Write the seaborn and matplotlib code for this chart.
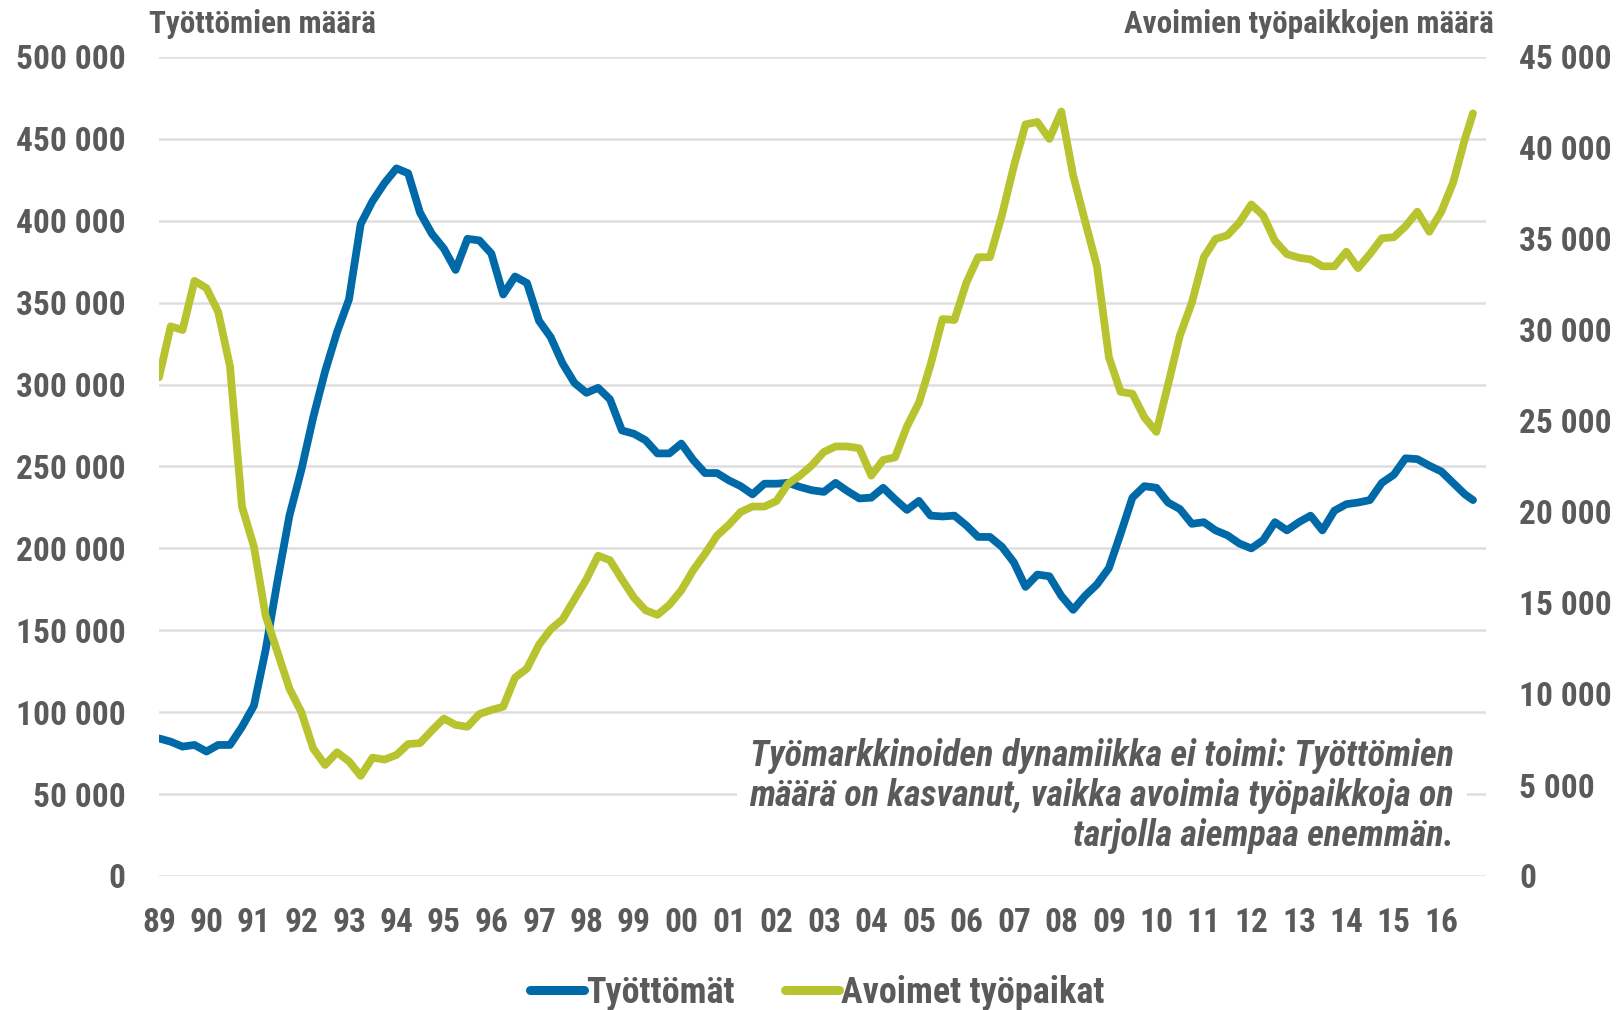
import matplotlib

matplotlib.use("Agg")
import matplotlib.pyplot as plt
import matplotlib.dates as mdates
from matplotlib import font_manager
from matplotlib.lines import Line2D
from matplotlib.ticker import MultipleLocator, FuncFormatter
import pandas as pd
import seaborn as sns

# quarterly readings Jan 1989 .. Jul 2016, plus the last month (Sep 2016)
KUUKAUDET = list(pd.date_range("1989-01-01", "2016-07-01", freq="QS")) + [pd.Timestamp("2016-09-01")]

# Työttömät, thousands (left axis)
TYOTTOMAT_K = [
    84, 82, 79, 80, 76, 80, 80, 91, 104, 138, 180, 220, 248, 280, 308, 332,
    352, 398, 412, 423, 432, 429, 405, 392, 383, 370, 389, 388, 380, 355, 366, 362,
    339, 329, 313, 301, 295, 298, 291, 272, 270, 266, 258, 258, 264, 254, 246, 246,
    241.5, 238, 233, 239.5, 239.5, 240, 237.5, 235.5, 234.5, 240, 235, 230.5, 231, 237, 230, 223.5,
    229, 220, 219.5, 220, 214, 207, 207, 201, 191.5, 176.5, 184, 183, 171, 162.5, 171, 178,
    188, 209, 231, 238, 237, 228, 224, 215, 216, 211, 208, 203, 200, 205, 216, 211,
    216, 220, 211, 223, 227, 228, 229.5, 240, 245, 255, 254.5, 250.5, 247, 240, 233,
    229.5,
]

# Avoimet työpaikat (right axis)
AVOIMET = [
    27400, 30200, 30000, 32700, 32300, 31000, 28000, 20300, 18100, 14300, 12300, 10300, 9000, 7000, 6100, 6800,
    6300, 5500, 6500, 6400, 6650, 7250, 7300, 8000, 8650, 8300, 8200, 8900, 9120, 9300, 10900, 11400,
    12700, 13550, 14100, 15200, 16300, 17600, 17350, 16300, 15300, 14600, 14350, 14900, 15700, 16800, 17700, 18700,
    19300, 20000, 20300, 20300, 20600, 21550, 22000, 22570, 23300, 23600, 23600, 23500, 22000, 22860, 23000, 24700,
    26000, 28100, 30600, 30550, 32600, 34000, 34000, 36300, 39000, 41300, 41430, 40500, 42000, 38500, 36000, 33500,
    28500, 26600, 26500, 25200, 24400, 27000, 29700, 31500, 34000, 35000, 35200, 35900, 36900, 36300, 34900, 34170,
    33970, 33880, 33500, 33500, 34300, 33400, 34170, 35040, 35100, 35700, 36500, 35400, 36500, 38090, 40500,
    41900,
]

SARJA_1 = "Työttömät"
SARJA_2 = "Avoimet työpaikat"
OTSIKKO_V = "Työttömien määrä"
OTSIKKO_O = "Avoimien työpaikkojen määrä"
HUOMIO = ("Työmarkkinoiden dynamiikka ei toimi: Työttömien\n"
          "määrä on kasvanut, vaikka avoimia työpaikkoja on\n"
          "tarjolla aiempaa enemmän.")

BLUE = "#006AA9"
GREEN = "#B8C42F"
GREY = "#5A5A5A"
GRID = "#DEDEDE"

sns.set_theme(style="white")

# the original uses a narrow bold face; take one if it is installed
installed = {f.name for f in font_manager.fontManager.ttflist}
narrow = [n for n in ("Liberation Sans Narrow", "Roboto Condensed", "Open Sans Condensed",
                      "DejaVu Sans Condensed") if n in installed]
if narrow:
    plt.rcParams["font.family"] = [narrow[0], "DejaVu Sans"]
    SZ_TICK, SZ_TITLE, SZ_LEG, SZ_NOTE = 24, 22.4, 26, 26
else:
    plt.rcParams["font.family"] = ["Liberation Sans", "DejaVu Sans"]
    SZ_TICK, SZ_TITLE, SZ_LEG, SZ_NOTE = 21.6, 19, 22.6, 22
plt.rcParams["font.weight"] = "bold"


def spaced(v, _pos=None):
    return f"{v:,.0f}".replace(",", " ")


df = pd.DataFrame({
    "kk": KUUKAUDET,
    "tyottomat": [v * 1000 for v in TYOTTOMAT_K],
    "avoimet": AVOIMET,
})

fig = plt.figure(figsize=(16.21, 10.10), dpi=100)
ax = fig.add_axes([159 / 1621, 1 - 876 / 1010, (1486 - 159) / 1621, (876 - 57) / 1010])
ax2 = ax.twinx()

sns.lineplot(data=df, x="kk", y="tyottomat", ax=ax, color=BLUE, lw=5.6,
             solid_joinstyle="round", solid_capstyle="round", legend=False)
sns.lineplot(data=df, x="kk", y="avoimet", ax=ax2, color=GREEN, lw=5.6,
             solid_joinstyle="round", solid_capstyle="round", legend=False)

ax.set_xlim(pd.Timestamp("1989-01-01"), pd.Timestamp("2016-12-10"))
ax.xaxis.set_major_locator(mdates.YearLocator())
ax.xaxis.set_major_formatter(mdates.DateFormatter("%y"))

ax.set_ylim(0, 500000)
ax.yaxis.set_major_locator(MultipleLocator(50000))
ax.yaxis.set_major_formatter(FuncFormatter(spaced))
ax2.set_ylim(0, 45000)
ax2.yaxis.set_major_locator(MultipleLocator(5000))
ax2.yaxis.set_major_formatter(FuncFormatter(spaced))

ax.grid(axis="y", color=GRID, lw=1.8)
ax.grid(axis="x", visible=False)
ax2.grid(False)
for a in (ax, ax2):
    a.set_xlabel("")
    a.set_ylabel("")
    for s in a.spines.values():
        s.set_visible(False)
    a.tick_params(length=0, labelsize=SZ_TICK, labelcolor=GREY)
ax.tick_params(axis="y", pad=24)
ax.tick_params(axis="x", pad=22)
ax2.tick_params(axis="y", pad=24)

fig.text(149 / 1621, 1 - 24 / 1010, OTSIKKO_V, ha="left", va="center", fontsize=SZ_TITLE, color=GREY)
fig.text(1494 / 1621, 1 - 24 / 1010, OTSIKKO_O, ha="right", va="center", fontsize=SZ_TITLE, color=GREY)

ax2.text(0.976, 0.098, HUOMIO, transform=ax2.transAxes, ha="right", va="center",
         fontsize=SZ_NOTE, style="italic", color=GREY, linespacing=1.15,
         bbox=dict(boxstyle="square,pad=0.35", fc="white", ec="none"))

handles = [Line2D([], [], color=BLUE, lw=6.5), Line2D([], [], color=GREEN, lw=6.5)]
fig.legend(handles, [SARJA_1, SARJA_2], loc="center", bbox_to_anchor=(0.504, 0.017), ncol=2,
           frameon=False, fontsize=SZ_LEG, handlelength=1.5, handletextpad=0.05, columnspacing=1.4,
           labelcolor=GREY)

fig.savefig("out.png", dpi=100)
plt.close(fig)
